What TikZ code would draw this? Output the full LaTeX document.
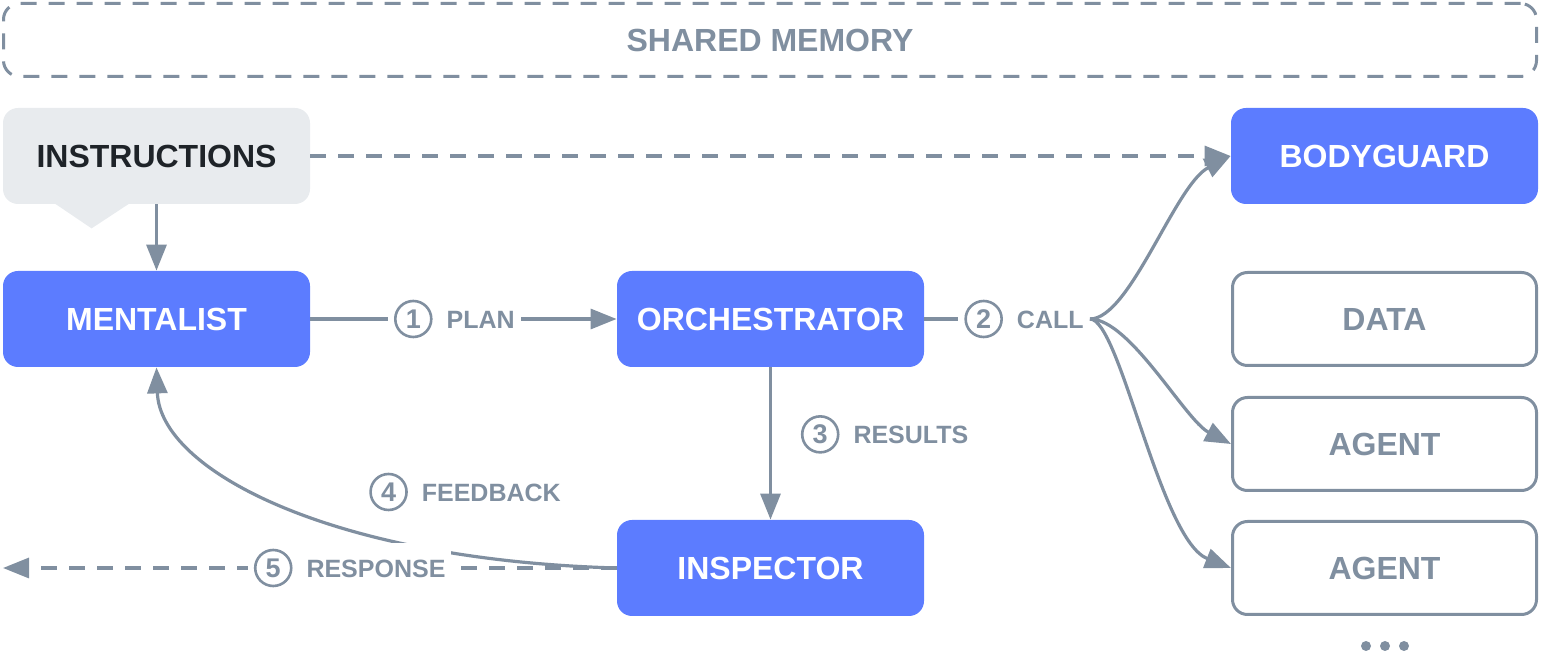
\documentclass[tikz,border=0pt]{standalone}
\usepackage{fontspec}
\setmainfont{Liberation Sans}
\usetikzlibrary{arrows.meta,calc}
\definecolor{blu}{RGB}{92,124,255}
\definecolor{slate}{RGB}{128,143,160}
\definecolor{pale}{RGB}{232,235,238}
\definecolor{ink}{RGB}{30,35,40}
\newcommand{\numc}[1]{\tikz[baseline=(n.base)]\node[circle,draw=slate,solid,line width=1.3pt,inner sep=0pt,minimum size=18pt,text=slate,fill=white,font=\fontsize{13.5}{15}\selectfont\bfseries] (n) {#1};}

\begin{document}
\begin{tikzpicture}[x=0.5pt,y=-0.5pt,
  box/.style={rounded corners=7.5pt,minimum width=153.5pt,minimum height=48pt,inner sep=0pt,font=\fontsize{16}{19}\selectfont\bfseries},
  solid box/.style={box,fill=blu,text=white},
  open box/.style={box,draw=slate,line width=1.5pt,minimum width=152pt,minimum height=46.5pt,text=slate},
  lbl/.style={fill=white,text=slate,inner sep=3pt,font=\fontsize{12.5}{15}\selectfont\bfseries},
  con/.style={color=slate,line width=1.6pt},
  arr/.style={con,-{Triangle[length=13pt,width=10pt]}},
  dsh/.style={dash pattern=on 8pt off 6pt}]
    \useasboundingbox (0,0) rectangle (1542,656);
    \node[draw=slate,line width=1.5pt,dsh,rounded corners=8pt,minimum width=766.5pt,minimum height=36.5pt,text=slate,font=\fontsize{16}{19}\selectfont\bfseries] (mem) at (770,40) {SHARED MEMORY};
    \node[box,fill=pale,text=ink] (ins) at (156.5,156) {INSTRUCTIONS};
    \fill[pale] ($(ins.south west)+(52,-1)$) -- ($(ins.south west)+(89,24)$) -- ($(ins.south west)+(127,-1)$) -- cycle;
    \node[solid box] (grd) at (1384.5,156) {BODYGUARD};
    \node[solid box] (men) at (156.5,319) {MENTALIST};
    \node[solid box] (orc) at (770.5,319) {ORCHESTRATOR};
    \node[solid box] (insp) at (770.5,568) {INSPECTOR};
    \node[open box] (data) at (1384.5,319) {DATA};
    \node[open box] (ag1) at (1384.5,444) {AGENT};
    \node[open box] (ag2) at (1384.5,568) {AGENT};
    \coordinate (fork) at (1090,319);
    \coordinate (out) at (3,568);
    \draw[arr] (ins) -- (men);
    \draw[arr,dsh] (ins) -- (grd);
    \draw[arr] (men) -- node[lbl,pos=0.47] (plan) {\numc{1}\hspace{7pt}PLAN} (orc);
    \draw[con] (orc) -- node[lbl,pos=1,anchor=east] (call) {\numc{2}\hspace{7pt}CALL} (fork);
    \draw[arr] (fork) .. controls (1130,319) and (1175,185) .. (grd.west);
    \draw[arr] (fork) .. controls (1130,319) and (1185,420) .. (ag1.west);
    \draw[arr] (fork) .. controls (1120,319) and (1160,540) .. (ag2.west);
    \draw[arr] (orc) -- node[lbl,fill=none,pos=0.44,anchor=west,xshift=12pt] (res) {\numc{3}\hspace{7pt}RESULTS} (insp);
    \draw[arr] (insp.west) .. controls (330,560) and (160,470) .. (men.south);
    \node[lbl,fill=none] (fb) at (465,492) {\numc{4}\hspace{7pt}FEEDBACK};
    \draw[arr,dsh] (insp.west) -- node[lbl,pos=0.435] (resp) {\numc{5}\hspace{7pt}RESPONSE} (out);
    \foreach \x in {1366,1385,1404}
      \fill[slate] (\x,646) circle (2.5pt);
  \end{tikzpicture}
\end{document}
